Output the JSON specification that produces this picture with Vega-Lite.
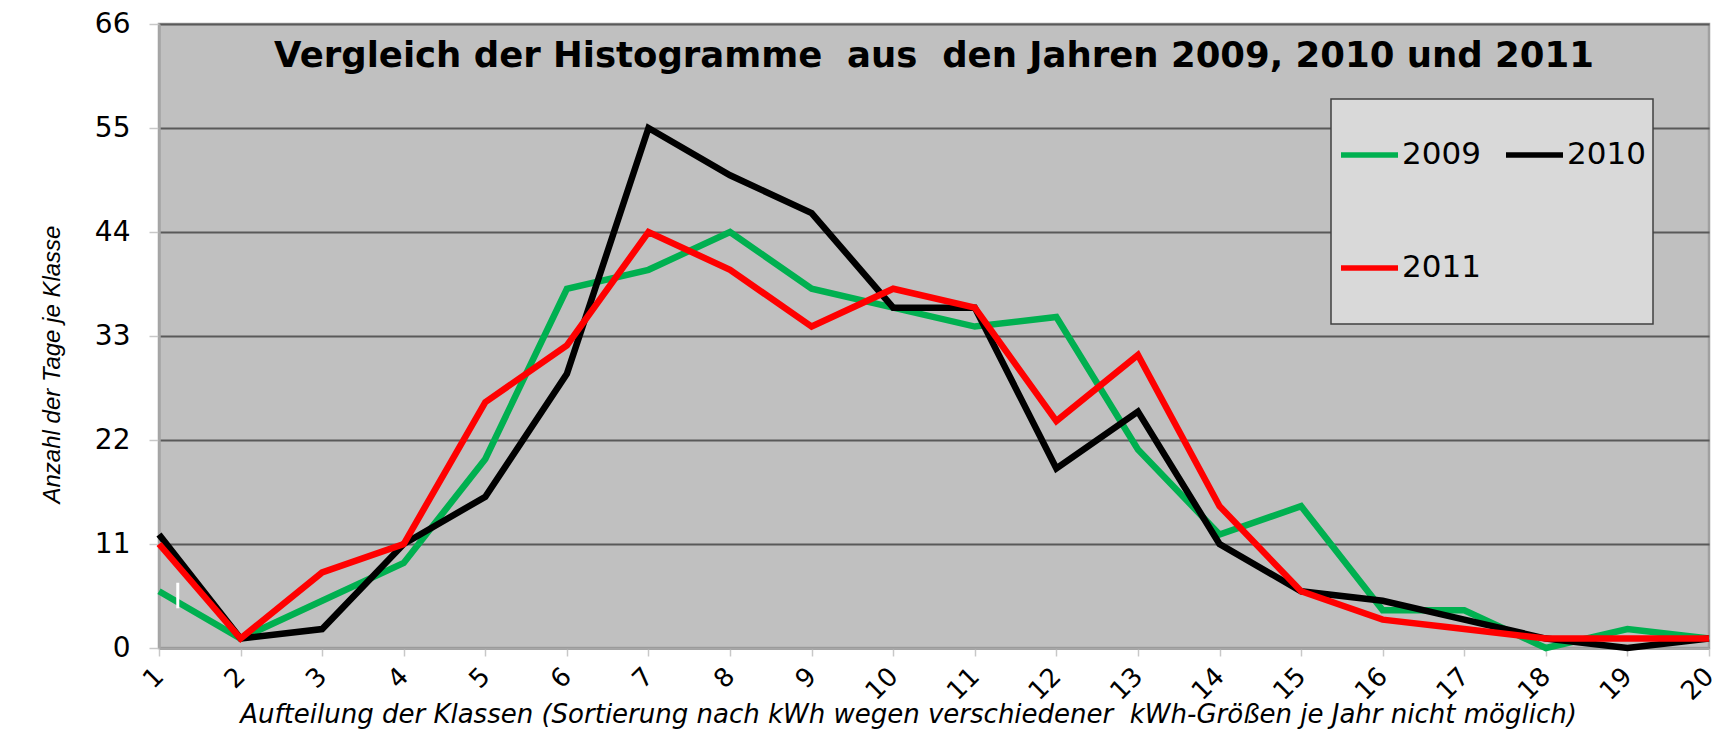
{
  "$schema": "https://vega.github.io/schema/vega-lite/v6.json",
  "autosize": {"type": "none"},
  "padding": {"left": 159, "top": 24, "right": 24, "bottom": 85},
  "width": 1550,
  "height": 624,
  "background": "#ffffff",
  "title": {
    "text": "Vergleich der Histogramme\u00a0 aus\u00a0 den Jahren 2009, 2010 und 2011",
    "font": "DejaVu Sans",
    "fontSize": 35.5,
    "fontWeight": "bold",
    "color": "#000000",
    "anchor": "middle",
    "frame": "group",
    "offset": -64
  },
  "layer": [
    {
      "data": {
        "values": [
          {"klasse": 1, "anzahl": 6, "jahr": "2009"},
          {"klasse": 2, "anzahl": 1, "jahr": "2009"},
          {"klasse": 3, "anzahl": 5, "jahr": "2009"},
          {"klasse": 4, "anzahl": 9, "jahr": "2009"},
          {"klasse": 5, "anzahl": 20, "jahr": "2009"},
          {"klasse": 6, "anzahl": 38, "jahr": "2009"},
          {"klasse": 7, "anzahl": 40, "jahr": "2009"},
          {"klasse": 8, "anzahl": 44, "jahr": "2009"},
          {"klasse": 9, "anzahl": 38, "jahr": "2009"},
          {"klasse": 10, "anzahl": 36, "jahr": "2009"},
          {"klasse": 11, "anzahl": 34, "jahr": "2009"},
          {"klasse": 12, "anzahl": 35, "jahr": "2009"},
          {"klasse": 13, "anzahl": 21, "jahr": "2009"},
          {"klasse": 14, "anzahl": 12, "jahr": "2009"},
          {"klasse": 15, "anzahl": 15, "jahr": "2009"},
          {"klasse": 16, "anzahl": 4, "jahr": "2009"},
          {"klasse": 17, "anzahl": 4, "jahr": "2009"},
          {"klasse": 18, "anzahl": 0, "jahr": "2009"},
          {"klasse": 19, "anzahl": 2, "jahr": "2009"},
          {"klasse": 20, "anzahl": 1, "jahr": "2009"},
          {"klasse": 1, "anzahl": 12, "jahr": "2010"},
          {"klasse": 2, "anzahl": 1, "jahr": "2010"},
          {"klasse": 3, "anzahl": 2, "jahr": "2010"},
          {"klasse": 4, "anzahl": 11, "jahr": "2010"},
          {"klasse": 5, "anzahl": 16, "jahr": "2010"},
          {"klasse": 6, "anzahl": 29, "jahr": "2010"},
          {"klasse": 7, "anzahl": 55, "jahr": "2010"},
          {"klasse": 8, "anzahl": 50, "jahr": "2010"},
          {"klasse": 9, "anzahl": 46, "jahr": "2010"},
          {"klasse": 10, "anzahl": 36, "jahr": "2010"},
          {"klasse": 11, "anzahl": 36, "jahr": "2010"},
          {"klasse": 12, "anzahl": 19, "jahr": "2010"},
          {"klasse": 13, "anzahl": 25, "jahr": "2010"},
          {"klasse": 14, "anzahl": 11, "jahr": "2010"},
          {"klasse": 15, "anzahl": 6, "jahr": "2010"},
          {"klasse": 16, "anzahl": 5, "jahr": "2010"},
          {"klasse": 17, "anzahl": 3, "jahr": "2010"},
          {"klasse": 18, "anzahl": 1, "jahr": "2010"},
          {"klasse": 19, "anzahl": 0, "jahr": "2010"},
          {"klasse": 20, "anzahl": 1, "jahr": "2010"},
          {"klasse": 1, "anzahl": 11, "jahr": "2011"},
          {"klasse": 2, "anzahl": 1, "jahr": "2011"},
          {"klasse": 3, "anzahl": 8, "jahr": "2011"},
          {"klasse": 4, "anzahl": 11, "jahr": "2011"},
          {"klasse": 5, "anzahl": 26, "jahr": "2011"},
          {"klasse": 6, "anzahl": 32, "jahr": "2011"},
          {"klasse": 7, "anzahl": 44, "jahr": "2011"},
          {"klasse": 8, "anzahl": 40, "jahr": "2011"},
          {"klasse": 9, "anzahl": 34, "jahr": "2011"},
          {"klasse": 10, "anzahl": 38, "jahr": "2011"},
          {"klasse": 11, "anzahl": 36, "jahr": "2011"},
          {"klasse": 12, "anzahl": 24, "jahr": "2011"},
          {"klasse": 13, "anzahl": 31, "jahr": "2011"},
          {"klasse": 14, "anzahl": 15, "jahr": "2011"},
          {"klasse": 15, "anzahl": 6, "jahr": "2011"},
          {"klasse": 16, "anzahl": 3, "jahr": "2011"},
          {"klasse": 17, "anzahl": 2, "jahr": "2011"},
          {"klasse": 18, "anzahl": 1, "jahr": "2011"},
          {"klasse": 19, "anzahl": 1, "jahr": "2011"},
          {"klasse": 20, "anzahl": 1, "jahr": "2011"}
        ]
      },
      "mark": {"type": "line", "strokeWidth": 6.5, "strokeJoin": "miter", "clip": false},
      "encoding": {
        "x": {
          "field": "klasse",
          "type": "quantitative",
          "scale": {"domain": [1, 20], "nice": false, "zero": false},
          "axis": {
            "values": [1, 2, 3, 4, 5, 6, 7, 8, 9, 10, 11, 12, 13, 14, 15, 16, 17, 18, 19, 20],
            "format": "d",
            "grid": false,
            "domainColor": "#a6a6a6",
            "domainWidth": 2.5,
            "tickColor": "#c8c8c8",
            "tickWidth": 1.5,
            "tickSize": 8,
            "labelAngle": -45,
            "labelAlign": "right",
            "labelBaseline": "middle",
            "labelPadding": 16,
            "labelFont": "DejaVu Sans",
            "labelFontSize": 26,
            "labelColor": "#000000",
            "title": "Aufteilung der Klassen (Sortierung nach kWh wegen verschiedener\u00a0 kWh-Größen je Jahr nicht möglich)",
            "titleFont": "DejaVu Sans",
            "titleFontStyle": "italic",
            "titleFontWeight": "normal",
            "titleFontSize": 26,
            "titleColor": "#000000",
            "titleAlign": "center",
            "titleBaseline": "alphabetic",
            "titleX": 749,
            "titleY": 74
          }
        },
        "y": {
          "field": "anzahl",
          "type": "quantitative",
          "scale": {"domain": [0, 66], "nice": false},
          "axis": {
            "values": [0, 11, 22, 33, 44, 55, 66],
            "grid": true,
            "gridColor": "#595959",
            "gridWidth": 2,
            "domainColor": "#a6a6a6",
            "domainWidth": 2.5,
            "tickColor": "#c8c8c8",
            "tickWidth": 1.5,
            "tickSize": 10,
            "labelPadding": 19,
            "labelFont": "DejaVu Sans",
            "labelFontSize": 28,
            "labelColor": "#000000",
            "title": "Anzahl der Tage je Klasse",
            "titleFont": "Liberation Sans",
            "titleFontStyle": "italic",
            "titleFontWeight": "normal",
            "titleFontSize": 24,
            "titleColor": "#000000",
            "titleAngle": -90,
            "titleAlign": "center",
            "titleBaseline": "middle",
            "titleX": -107,
            "titleY": 340
          }
        },
        "color": {
          "field": "jahr",
          "type": "nominal",
          "scale": {"domain": ["2009", "2010", "2011"], "range": ["#00b050", "#000000", "#ff0000"]},
          "legend": {
            "title": null,
            "orient": "none",
            "direction": "horizontal",
            "legendX": 1172,
            "legendY": 75,
            "columns": 2,
            "symbolType": "stroke",
            "symbolSize": 3249,
            "symbolStrokeWidth": 5.5,
            "labelFont": "DejaVu Sans",
            "labelFontSize": 31,
            "labelColor": "#000000",
            "labelOffset": 1,
            "clipHeight": 98,
            "rowPadding": 15,
            "columnPadding": 22,
            "padding": 7,
            "fillColor": "#d9d9d9",
            "strokeColor": "#404040",
            "cornerRadius": 0
          }
        }
      }
    },
    {
      "data": {"values": [{"klasse": 1.23, "unten": 4.2, "oben": 6.9}]},
      "mark": {"type": "rule", "color": "#ffffff", "strokeWidth": 3},
      "encoding": {
        "x": {"field": "klasse", "type": "quantitative"},
        "y": {"field": "unten", "type": "quantitative"},
        "y2": {"field": "oben"}
      }
    }
  ],
  "config": {
    "view": {"fill": "#c0c0c0", "stroke": "#a0a0a0", "strokeWidth": 2.5},
    "legend": {"strokeWidth": 1.5}
  }
}
